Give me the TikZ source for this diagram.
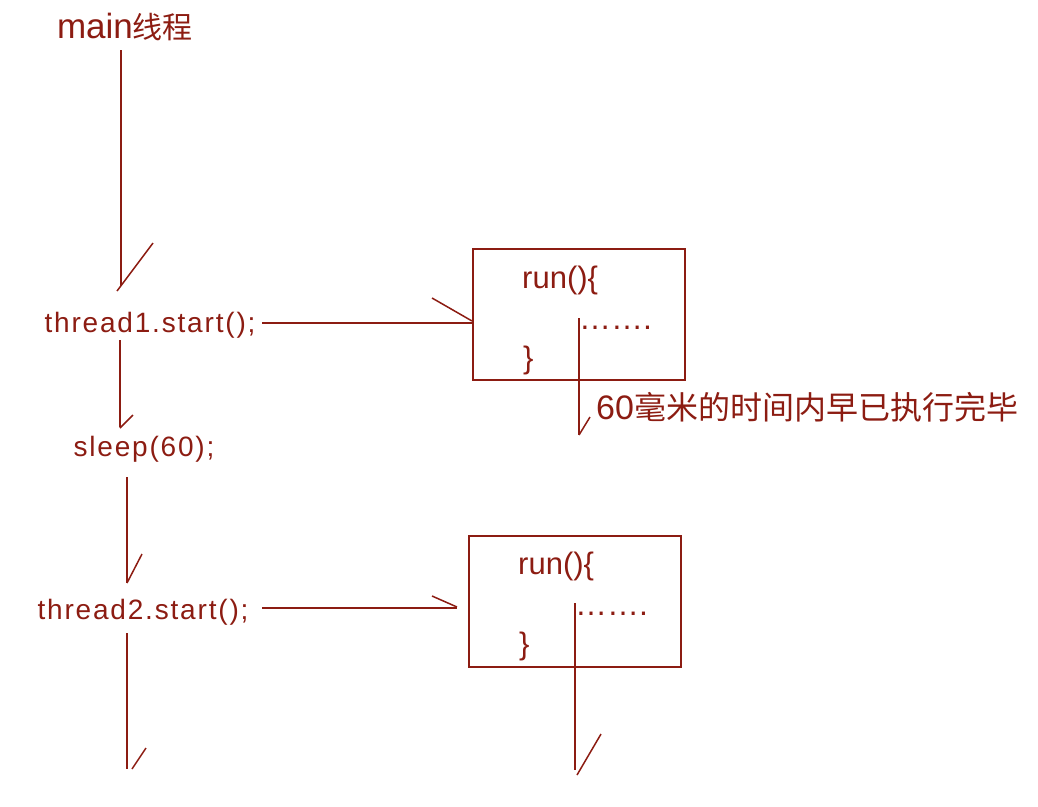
\documentclass[tikz,border=0pt]{standalone}
\usepackage{fontspec}
\setmainfont{Liberation Sans}
\newfontfamily\cjk{Noto Sans CJK SC}
\newfontfamily\spaced[LetterSpace=6.5]{Liberation Sans}
\definecolor{ink}{RGB}{140,28,18}
\begin{document}
\begin{tikzpicture}[x=1pt,y=-1pt,
  ln/.style={draw=ink,line width=2pt},
  barb/.style={draw=ink,line width=1.5pt},
  lbl/.style={text=ink,inner sep=0pt,font=\spaced\fontsize{28}{32}\selectfont},
  box/.style={draw=ink,line width=2pt,minimum width=212pt,minimum height=131pt,inner sep=0pt},
  code/.style={text=ink,inner sep=0pt,anchor=base west,font=\fontsize{31}{36}\selectfont}]
\useasboundingbox (0,0) rectangle (1038,806);
% labels
\node[text=ink,inner sep=0pt] (main) at (125,27) {\fontsize{35}{40}\selectfont main{\cjk\fontsize{30}{36}\selectfont 线程}};
\node[lbl] (t1) at (150,325) {thread1.start();};
\node[lbl] (sl) at (144,449) {sleep(60);};
\node[lbl] (t2) at (143,612) {thread2.start();};
% boxes
\node[box] (b1) at (579,314.5) {};
\node[box] (b2) at (575,601) {};
\node[code] (r1) at (522,288) {run()\{};
\node[code] (c1) at (523,368) {\}};
\node[code] (r2) at (518,574) {run()\{};
\node[code] (c2) at (519,654) {\}};
\node[code,font=\fontsize{32}{36}\selectfont] (d1) at (579,329) {…….};
\node[code,font=\fontsize{32}{36}\selectfont] (d2) at (575,615) {…….};
\node[text=ink,inner sep=0pt,anchor=west] (note) at (596,407) {\fontsize{34}{40}\selectfont 60{\cjk\fontsize{32}{36}\selectfont 毫米的时间内早已执行完毕}};
% coordinates
\coordinate (m0) at (121,50);   \coordinate (m1) at (121,286);
\coordinate (m1a) at (117,291); \coordinate (m1b) at (153,243);
\coordinate (s0) at (120,340);  \coordinate (s1) at (120,427);
\coordinate (s1a) at (120,428); \coordinate (s1b) at (133,415);
\coordinate (u0) at (127,477);  \coordinate (u1) at (127,583);
\coordinate (u1a) at (127,583); \coordinate (u1b) at (142,554);
\coordinate (v0) at (127,633);  \coordinate (v1) at (127,769);
\coordinate (v1a) at (132,769); \coordinate (v1b) at (146,748);
\coordinate (h0) at (262,323);  \coordinate (h1) at (b1.west |- h0);
\coordinate (h1a) at (432,298); \coordinate (h1b) at (472,321);
\coordinate (k0) at (262,608);  \coordinate (k1) at (457,608);
\coordinate (k1a) at (432,596); \coordinate (k1b) at (457,607);
\coordinate (p0) at (579,318);  \coordinate (p1) at (579,435);
\coordinate (p1a) at (579,435); \coordinate (p1b) at (590,417);
\coordinate (q0) at (575,603);  \coordinate (q1) at (575,770);
\coordinate (q1a) at (577,775); \coordinate (q1b) at (601,734);
% connectors
\draw[ln] (m0) -- (m1);  \draw[barb] (m1a) -- (m1b);
\draw[ln] (s0) -- (s1);  \draw[barb] (s1a) -- (s1b);
\draw[ln] (u0) -- (u1);  \draw[barb] (u1a) -- (u1b);
\draw[ln] (v0) -- (v1);  \draw[barb] (v1a) -- (v1b);
\draw[ln] (h0) -- (h1);  \draw[barb] (h1a) -- (h1b);
\draw[ln] (k0) -- (k1);  \draw[barb] (k1a) -- (k1b);
\draw[ln] (p0) -- (p1);  \draw[barb] (p1a) -- (p1b);
\draw[ln] (q0) -- (q1);  \draw[barb] (q1a) -- (q1b);
\end{tikzpicture}
\end{document}
